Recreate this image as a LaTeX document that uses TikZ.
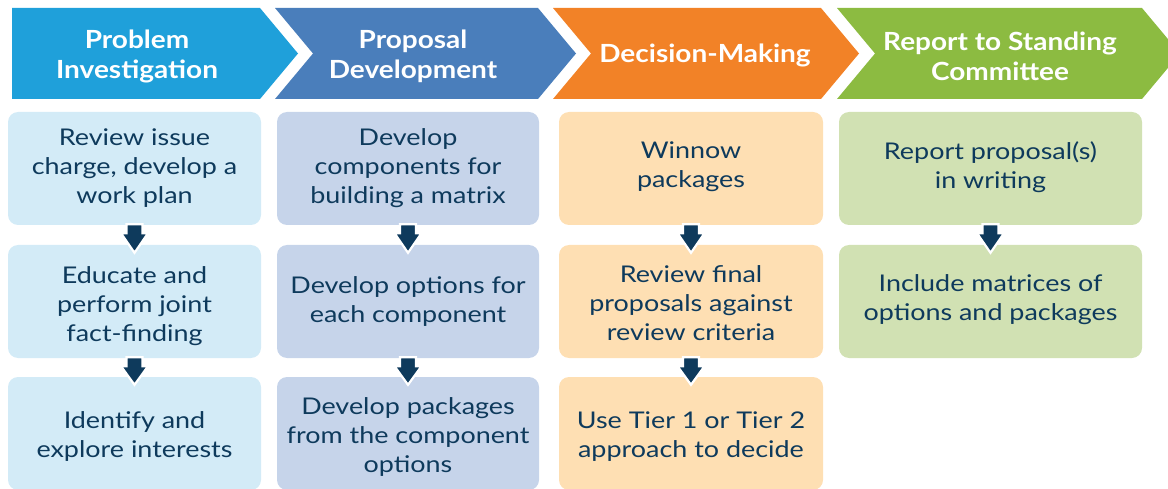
\documentclass[tikz,border=0pt]{standalone}
\usepackage{fontspec}
\setmainfont[FakeStretch=1.17]{Lato}
\newfontfamily\headfont[FakeStretch=1.12]{Lato}
\usetikzlibrary{calc}
\definecolor{hA}{HTML}{1FA0DA}
\definecolor{hB}{HTML}{4A7EBB}
\definecolor{hC}{HTML}{F28227}
\definecolor{hD}{HTML}{8CBB41}
\definecolor{bA}{HTML}{D3EBF7}
\definecolor{bB}{HTML}{C6D4EA}
\definecolor{bC}{HTML}{FEDFB3}
\definecolor{bD}{HTML}{D1E1B3}
\definecolor{navy}{HTML}{0E3A5C}
\newcommand{\flowarrow}[2]{%
  \filldraw[arr] ($(#1.south)+(-8,-1)$) -- ($(#1.south)+(-8,8)$) -- ($(#1.south)+(-13.5,8)$)
    -- ($(#2.north)+(0,8)$) -- ($(#1.south)+(13.5,8)$) -- ($(#1.south)+(8,8)$)
    -- ($(#1.south)+(8,-1)$) -- cycle;}
\begin{document}
\begin{tikzpicture}[x=1pt,y=-1pt,
  box/.style={rounded corners=10pt, minimum height=113pt, inner sep=0pt},
  txt/.style={align=center, text=navy, inner sep=0pt, font=\fontsize{23}{29}\selectfont},
  head/.style={text=white, align=center, font=\headfont\bfseries\fontsize{25}{30}\selectfont},
  arr/.style={fill=navy, draw=white, line width=2.2pt, line join=miter}]
\useasboundingbox (0,0) rectangle (1168,489);
\clip (0,0) rectangle (1168,489);
% headers
\fill[hA] (12,8) -- (260,8) -- (298,53.5) -- (260,99) -- (12,99) -- cycle;
\fill[hB] (275,8) -- (538,8) -- (576,53.5) -- (538,99) -- (275,99) -- (313,53.5) -- cycle;
\fill[hC] (553,8) -- (821,8) -- (859,53.5) -- (821,99) -- (553,99) -- (591,53.5) -- cycle;
\fill[hD] (837,8) -- (1142,8) -- (1180,53.5) -- (1142,99) -- (837,99) -- (875,53.5) -- cycle;
\node[head] (h1) at (137,56) {Problem\\Investigation};
\node[head] (h2) at (413,56) {Proposal\\Development};
\node[head] (h3) at (705,55.5) {Decision-Making};
\node[head] (h4) at (1000,56.5) {Report to Standing\\Committee};
% boxes
\node[box, fill=bA, minimum width=253pt] (a1) at (134.5,168.5) {};
\node[box, fill=bA, minimum width=253pt] (a2) at (134.5,301.5) {};
\node[box, fill=bA, minimum width=253pt] (a3) at (134.5,433.5) {};
\node[box, fill=bB, minimum width=262pt] (b1) at (408,168.5) {};
\node[box, fill=bB, minimum width=262pt] (b2) at (408,301.5) {};
\node[box, fill=bB, minimum width=262pt] (b3) at (408,433.5) {};
\node[box, fill=bC, minimum width=264pt] (c1) at (691,168.5) {};
\node[box, fill=bC, minimum width=264pt] (c2) at (691,301.5) {};
\node[box, fill=bC, minimum width=264pt] (c3) at (691,433.5) {};
\node[box, fill=bD, minimum width=303pt] (d1) at (990.5,168.5) {};
\node[box, fill=bD, minimum width=303pt] (d2) at (990.5,301.5) {};
% texts
\node[txt] (a1t) at ($(a1)+(0,0)$) {Review issue\\charge, develop a\\work plan};
\node[txt] (a2t) at ($(a2)+(0,5)$) {Educate and\\perform joint\\fact-finding};
\node[txt] (a3t) at ($(a3)+(0,3)$) {Identify and\\explore interests};
\node[txt] (b1t) at ($(b1)+(0,0)$) {Develop\\components for\\building a matrix};
\node[txt] (b2t) at ($(b2)+(0,0)$) {Develop options for\\each component};
\node[txt] (b3t) at ($(b3)+(0,4)$) {Develop packages\\from the component\\options};
\node[txt] (c1t) at ($(c1)+(0,-2)$) {Winnow\\packages};
\node[txt] (c2t) at ($(c2)+(0,2)$) {Review final\\proposals against\\review criteria};
\node[txt] (c3t) at ($(c3)+(0,3)$) {Use Tier 1 or Tier 2\\approach to decide};
\node[txt] (d1t) at ($(d1)+(0,-1)$) {Report proposal(s)\\in writing};
\node[txt] (d2t) at ($(d2)+(0,-2)$) {Include matrices of\\options and packages};
% arrows
\flowarrow{a1}{a2}
\flowarrow{a2}{a3}
\flowarrow{b1}{b2}
\flowarrow{b2}{b3}
\flowarrow{c1}{c2}
\flowarrow{c2}{c3}
\flowarrow{d1}{d2}
\end{tikzpicture}
\end{document}
